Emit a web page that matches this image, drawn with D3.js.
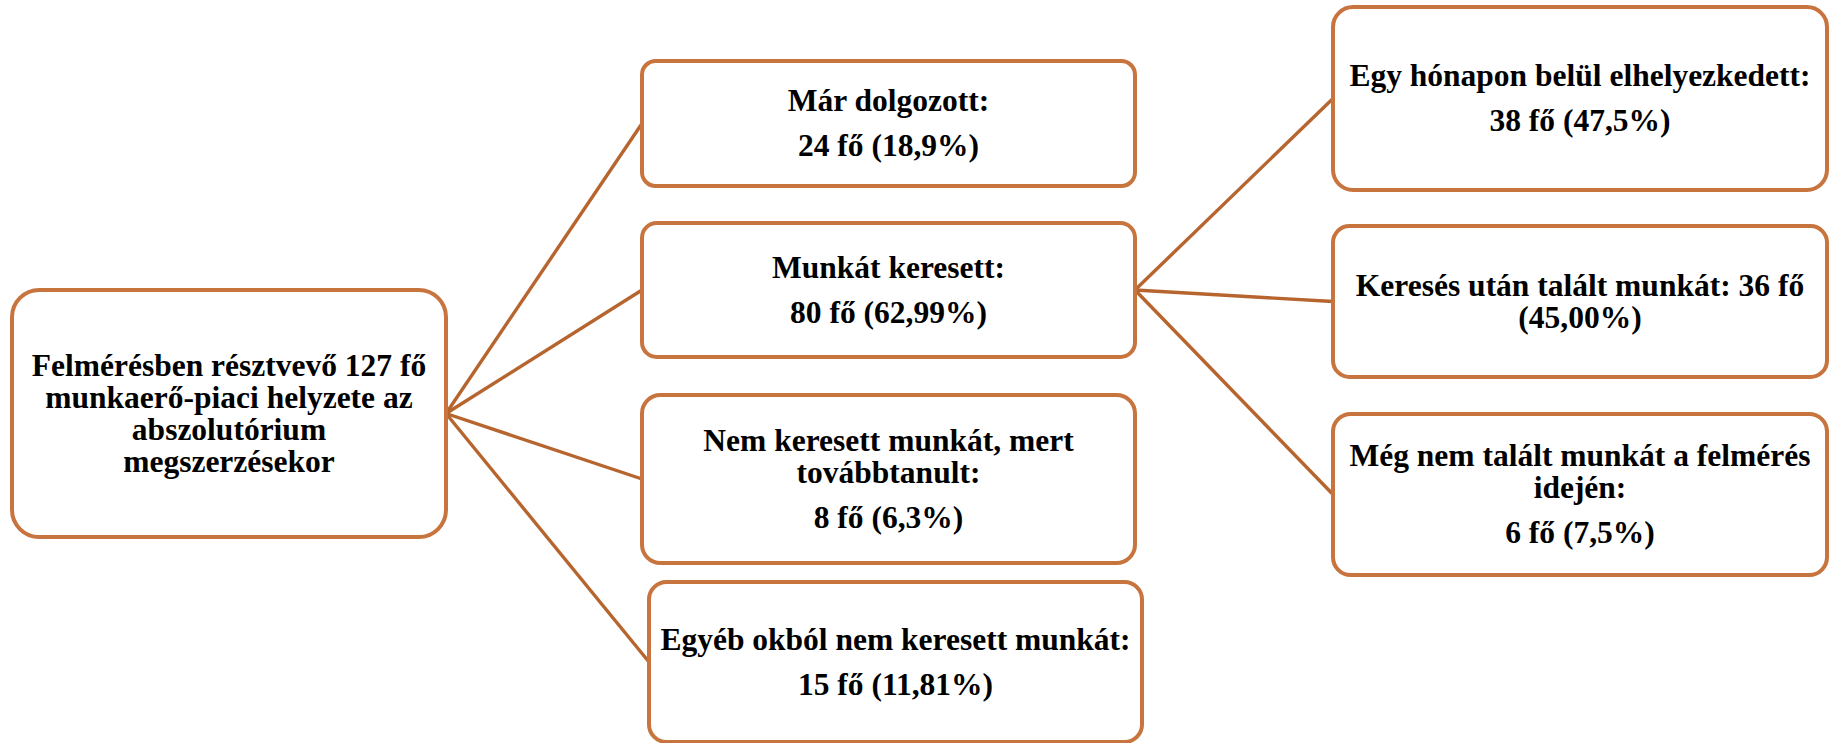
<!DOCTYPE html>
<html>
<head>
<meta charset="utf-8">
<script src="https://cdn.jsdelivr.net/npm/d3@7"></script>
<style>
body{margin:0;background:#fff;}
svg{display:block;}
</style>
</head>
<body>
<svg id="chart"></svg>
<script>
// texts of the diagram
var rootLabel = ["Felmérésben résztvevő 127 fő","munkaerő-piaci helyzete az","abszolutórium","megszerzésekor"]

var groupLabels = [["Már dolgozott:"],["Munkát keresett:"],["Nem keresett munkát, mert","továbbtanult:"],["Egyéb okból nem keresett munkát:"]]
var groupCounts = [24, 80, 8, 15]
var groupPercents = ["18,9%","62,99%","6,3%","11,81%"]

var searchLabels = [["Egy hónapon belül elhelyezkedett:"],["Keresés után talált munkát:"],["Még nem talált munkát a felmérés","idején:"]]
var searchCounts = [38, 36, 6]
var searchPercents = ["47,5%","45,00%","7,5%"]
var searchInline = [false, true, false]   // count written on the label line

var screen = {width:1831, height:743}

// layout of the boxes (x extent per column, y extent per box)
var rootBox = {x0:12, x1:446, y0:290, y1:537}
var groupBoxes = [{x0:642,x1:1135,y0:61,y1:186},{x0:642,x1:1135,y0:223,y1:357},
                  {x0:642,x1:1135,y0:395,y1:563},{x0:649,x1:1142,y0:582,y1:742}]
var searchBoxes = [{x0:1333,x1:1827,y0:7,y1:190},{x0:1333,x1:1827,y0:226,y1:377},
                   {x0:1333,x1:1827,y0:414,y1:575}]

var fontSize = 31.5, lineGap = 32, valueGap = 45, capHalf = 10
var boxColor = "#c8743f", linkColor = "#b7652f"

var svg = d3.select("#chart")
    .attr("width", screen.width)
    .attr("height", screen.height)

var fo = function(n, p){ return n + " fő (" + p + ")" }

// build the tree
var tree = {lines: rootLabel, box: rootBox, children: []}
groupLabels.forEach(function(lab, i){
    tree.children.push({lines: lab, value: fo(groupCounts[i], groupPercents[i]), box: groupBoxes[i], children: []})
})
searchLabels.forEach(function(lab, i){
    var node
    if (searchInline[i]) {
        node = {lines: [lab[0] + " " + searchCounts[i] + " fő", "(" + searchPercents[i] + ")"], box: searchBoxes[i]}
    } else {
        node = {lines: lab, value: fo(searchCounts[i], searchPercents[i]), box: searchBoxes[i]}
    }
    tree.children[1].children.push(node)
})

var root = d3.hierarchy(tree)

// links: parent right middle -> child left middle
svg.append("g").selectAll("line")
    .data(root.links())
    .enter().append("line")
    .attr("x1", function(d){ return d.source.data.box.x1 })
    .attr("y1", function(d){ var b = d.source.data.box; return (b.y0 + b.y1) / 2 })
    .attr("x2", function(d){ return d.target.data.box.x0 })
    .attr("y2", function(d){ var b = d.target.data.box; return (b.y0 + b.y1) / 2 })
    .style("stroke", linkColor)
    .style("stroke-width", 3.4)

var nodes = svg.append("g").selectAll("g")
    .data(root.descendants())
    .enter().append("g")

nodes.append("rect")
    .attr("x", function(d){ return d.data.box.x0 })
    .attr("y", function(d){ return d.data.box.y0 })
    .attr("width", function(d){ return d.data.box.x1 - d.data.box.x0 })
    .attr("height", function(d){ return d.data.box.y1 - d.data.box.y0 })
    .attr("rx", function(d){ var b = d.data.box; return 0.11 * Math.min(b.x1 - b.x0, b.y1 - b.y0) })
    .style("fill", "#fff")
    .style("stroke", boxColor)
    .style("stroke-width", 4)

nodes.each(function(d){
    var b = d.data.box
    var rows = d.data.lines.map(function(t, i){ return {text: t, y: i * lineGap} })
    if (d.data.value) {
        rows.push({text: d.data.value, y: rows[rows.length - 1].y + valueGap})
    }
    var span = rows[rows.length - 1].y
    var top = (b.y0 + b.y1) / 2 - span / 2 + capHalf
    d3.select(this).selectAll("text")
        .data(rows)
        .enter().append("text")
        .attr("x", (b.x0 + b.x1) / 2)
        .attr("y", function(r){ return top + r.y })
        .attr("text-anchor", "middle")
        .style("font-family", "'Liberation Serif', serif")
        .style("font-weight", "bold")
        .style("font-size", fontSize + "px")
        .style("fill", "#000")
        .text(function(r){ return r.text })
})
</script>
</body>
</html>
